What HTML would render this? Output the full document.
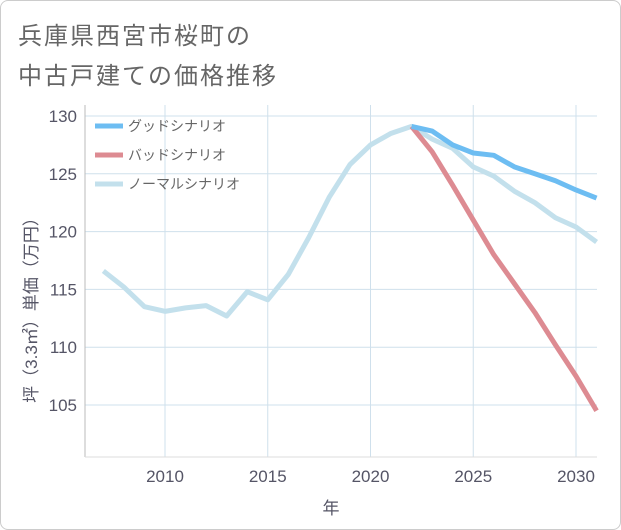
<!DOCTYPE html>
<html><head><meta charset="utf-8"><style>
body{margin:0;background:#fff;}
#wrap{position:relative;width:619px;height:528px;border:1px solid #ccc;border-radius:8px;background:#fff;overflow:hidden;font-family:"Liberation Sans","Noto Sans CJK JP",sans-serif;}
.title{position:absolute;left:17px;font-size:24px;color:#666;letter-spacing:2px;}
</style></head><body>
<div id="wrap">
<div class="title" style="top:15px">兵庫県西宮市桜町の</div>
<div class="title" style="top:55px">中古戸建ての価格推移</div>
<svg id="chart" width="621" height="530" style="position:absolute;left:-1px;top:-1px"></svg>
</div>
<script>
const years=[2007,2008,2009,2010,2011,2012,2013,2014,2015,2016,2017,2018,2019,2020,2021,2022,2023,2024,2025,2026,2027,2028,2029,2030,2031];
const normalVals=[116.6,115.2,113.5,113.1,113.4,113.6,112.7,114.8,114.1,116.3,119.5,123,125.8,127.5,128.5,129.1,128,127.2,125.6,124.8,123.5,122.5,121.2,120.4,119.1];
const futureYears=[2022,2023,2024,2025,2026,2027,2028,2029,2030,2031];
const goodVals=[129.1,128.7,127.5,126.8,126.6,125.6,125,124.4,123.6,122.9];
const badVals=[129.1,126.9,124,121,118,115.5,113,110.2,107.5,104.5];
const xTicks=[2010,2015,2020,2025,2030];
const yTicks=[105,110,115,120,125,130];
const NS='http://www.w3.org/2000/svg';
const svg=document.getElementById('chart');
const L=85,R=597,T=105,B=457;
const x=v=>165+(v-2010)*20.55;
const y=v=>116+(130-v)*11.56;
function mk(t,a,p){const e=document.createElementNS(NS,t);for(const k in a)e.setAttribute(k,a[k]);(p||svg).appendChild(e);return e;}
xTicks.forEach(t=>{const l=mk('line',{x1:x(t),x2:x(t),y1:T,y2:B,stroke:'#cfe0ec','stroke-width':1});

const tx=mk('text',{x:x(t),y:482,'text-anchor':'middle','font-size':17,fill:'#556'});tx.textContent=t;
});
yTicks.forEach(t=>{const l=mk('line',{x1:L,x2:R,y1:y(t),y2:y(t),stroke:'#cfe0ec','stroke-width':1});

const tx=mk('text',{x:77,y:y(t)+6,'text-anchor':'end','font-size':17,fill:'#556'});tx.textContent=t;
});
const ax=mk('line',{x1:L,x2:L,y1:T,y2:B,stroke:'#bbb'});
const bx=mk('line',{x1:L,x2:R,y1:B,y2:B,stroke:'#ddd'});
function line(xs,vs,c,n){const p=mk('polyline',{points:xs.map((t,i)=>x(t)+','+y(vs[i])).join(' '),fill:'none',stroke:c,'stroke-width':5,'stroke-linejoin':'round'});
}
line(years,normalVals,'#c3e0ec','normal-scenario-line');
line(futureYears,badVals,'#dd8b92','bad-scenario-line');
line(futureYears,goodVals,'#6dbdf2','good-scenario-line');
const leg=[['グッドシナリオ','#6dbdf2',126],['バッドシナリオ','#dd8b92',155],['ノーマルシナリオ','#c3e0ec',184]];
leg.forEach(([t,c,yy])=>{const g=mk('g',{});
mk('line',{x1:95,x2:123,y1:yy,y2:yy,stroke:c,'stroke-width':5},g);
const tx=mk('text',{x:128,y:yy+5,'font-size':14,fill:'#666'},g);tx.textContent=t;});
const xt=mk('text',{x:331,y:514,'text-anchor':'middle','font-size':17,fill:'#556'});xt.textContent='年';

const yt=mk('text',{x:0,y:0,'text-anchor':'middle','font-size':17,fill:'#556',transform:'translate(37,306) rotate(-90)'});yt.textContent='坪（3.3㎡）単価（万円）';

</script>
</body></html>
